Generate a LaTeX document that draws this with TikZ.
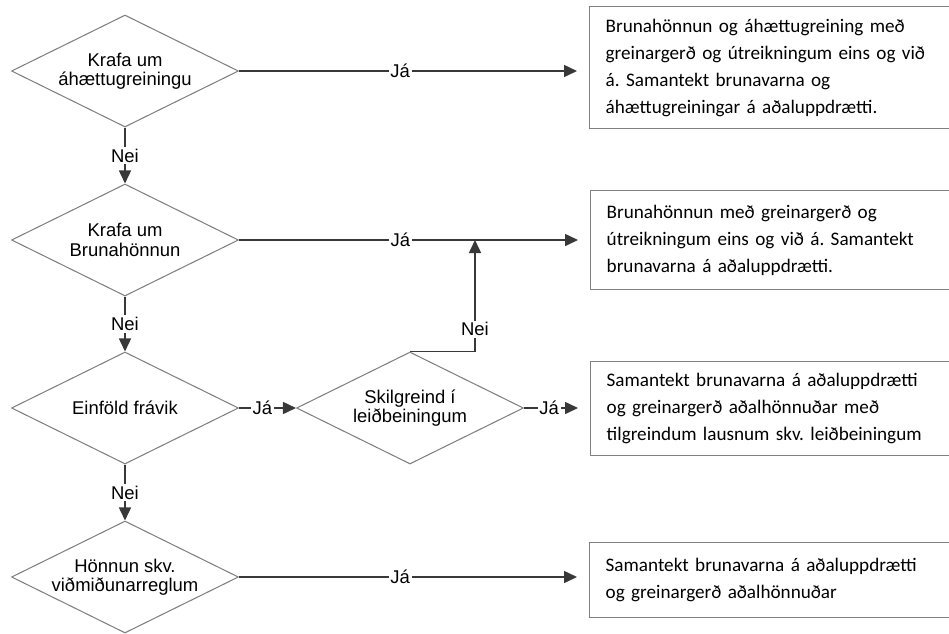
\documentclass[tikz,border=0pt]{standalone}
\usepackage{fontspec}
\setmainfont{Liberation Sans}
\newfontfamily\boxfont{Carlito}
\usetikzlibrary{arrows.meta, positioning, calc, shapes.geometric}
\definecolor{linegray}{HTML}{383838}
\definecolor{edgegray}{HTML}{808080}

\begin{document}
\frenchspacing
\begin{tikzpicture}[
  >={Triangle[length=0.26cm, width=0.24cm]}, line width=0.9pt,
  decision/.style={diamond, aspect=2, draw=edgegray, line width=0.6pt, minimum width=4.54cm, minimum height=2.24cm,
    inner sep=0pt, align=center, font=\fontsize{10.5}{11}\selectfont},
  outcome/.style={rectangle, draw=edgegray, line width=0.8pt, anchor=north west, text width=8.6cm,
    align=left, inner xsep=0.32cm, font=\boxfont\fontsize{10.9}{15.3}\selectfont},
  lbl/.style={fill=white, inner sep=1pt, font=\fontsize{10.5}{11}\selectfont},
  flow/.style={->, draw=linegray}
]
  \useasboundingbox (0,0) rectangle (18.98,-12.66);

  % spurningar vinstra megin
  \node[decision] (krafaA) at (2.5,-1.42) {Krafa um\\áhættugreiningu};
  \node[decision] (krafaB) at (2.5,-4.80) {Krafa um\\Brunahönnun};
  \node[decision] (einfold) at (2.5,-8.16) {Einföld frávik};
  \node[decision] (honnun) at (2.5,-11.54) {Hönnun skv.\\viðmiðunarreglum};
  \node[decision] (skilgr) at (8.2,-8.16) {Skilgreind í\\leiðbeiningum};

  % niðurstöður hægra megin
  \node[outcome, minimum height=2.44cm] (nidA) at (11.78,-0.12)
    {Brunahönnun og áhættugreining með\\greinargerð og útreikningum eins og við\\á. Samantekt brunavarna og\\áhættugreiningar á aðaluppdrætti.};
  \node[outcome, minimum height=1.98cm] (nidB) at (11.8,-3.8)
    {Brunahönnun með greinargerð og\\útreikningum eins og við á. Samantekt\\brunavarna á aðaluppdrætti.};
  \node[outcome, minimum height=1.88cm] (nidC) at (11.8,-7.22)
    {Samantekt brunavarna á aðaluppdrætti\\og greinargerð aðalhönnuðar með\\tilgreindum lausnum skv. leiðbeiningum};
  \node[outcome, minimum height=1.5cm] (nidD) at (11.78,-10.84)
    {Samantekt brunavarna á aðaluppdrætti\\og greinargerð aðalhönnuðar};

  \coordinate (neiup) at (9.5,-4.8);

  \draw[flow, shorten >=0.24cm] (krafaA.east) -- node[lbl, pos=0.46] {Já} (krafaA.east -| nidA.west);
  \draw[flow, shorten >=0.24cm] (krafaB.east) -- node[lbl, pos=0.46] {Já} (krafaB.east -| nidB.west);
  \draw[flow] (einfold.east) -- node[lbl, pos=0.41] {Já} (skilgr.west);
  \draw[flow, shorten >=0.24cm] (skilgr.east) -- node[lbl, pos=0.38] {Já} (skilgr.east -| nidC.west);
  \draw[flow, shorten >=0.24cm] (honnun.east) -- node[lbl, pos=0.46] {Já} (honnun.east -| nidD.west);

  \draw[flow] (krafaA) -- node[lbl] {Nei} (krafaB);
  \draw[flow] (krafaB) -- node[lbl] {Nei} (einfold);
  \draw[flow] (einfold) -- node[lbl] {Nei} (honnun);
  \draw[flow] (skilgr.north) -| node[lbl, pos=0.6] {Nei} (neiup);
\end{tikzpicture}
\end{document}
